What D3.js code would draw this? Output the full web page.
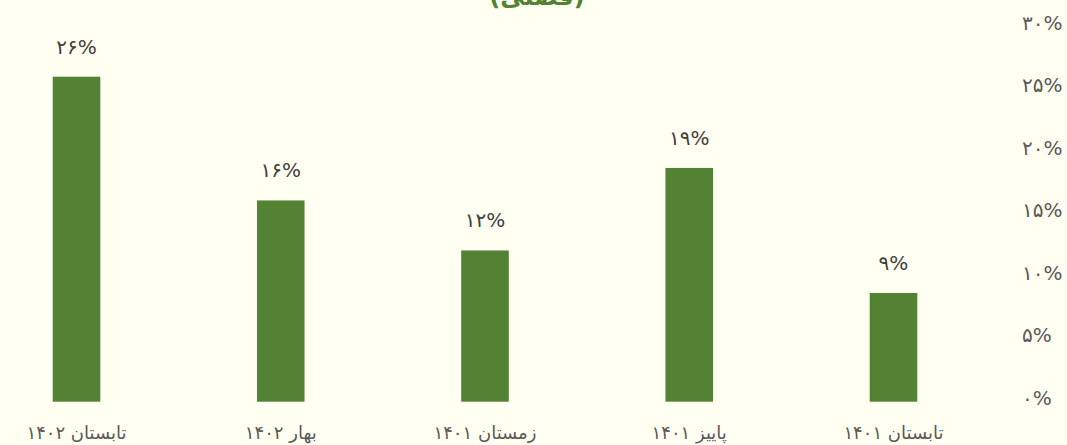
<!DOCTYPE html>
<html>
<head>
<meta charset="utf-8">
<script src="https://cdn.jsdelivr.net/npm/d3@7"></script>
<style>
  html, body { margin: 0; padding: 0; background: #fffff2; }
  svg { display: block; font-family: 'DejaVu Sans', sans-serif; }
</style>
</head>
<body>
<div id="chart"></div>
<script>
// داده‌ها (از چپ به راست در تصویر: جدیدترین تا قدیمی‌ترین)
const categories = ['تابستان ۱۴۰۱', 'پاییز ۱۴۰۱', 'زمستان ۱۴۰۱', 'بهار ۱۴۰۲', 'تابستان ۱۴۰۲'];
const values     = [8.7, 18.7, 12.1, 16.1, 26];
const valueLabels = ['۹%', '۱۹%', '۱۲%', '۱۶%', '۲۶%'];
const yTicks     = [0, 5, 10, 15, 20, 25, 30];
const yTickLabels = ['۰%', '۵%', '۱۰%', '۱۵%', '۲۰%', '۲۵%', '۳۰%'];
const title = '(فصلی)';

const width = 1067, height = 445;
const data = categories.map((c, i) => ({ cat: c, value: values[i], label: valueLabels[i] }));

const svg = d3.select('#chart').append('svg')
  .attr('width', width)
  .attr('height', height)
  .attr('viewBox', [0, 0, width, height]);

svg.append('rect').attr('width', width).attr('height', height).attr('fill', '#fffff2');

// ━━━ scales ━━━
// محور افقی راست به چپ
const x = d3.scaleBand()
  .domain(categories)
  .range([995.5, -25.5])
  .paddingInner(0.767)
  .paddingOuter(0.383);

const y = d3.scaleLinear()
  .domain([0, 30])
  .range([401.7, 26.7]);

// ━━━ y axis (right) ━━━
const yAxis = svg.append('g').attr('id', 'y-axis');
yAxis.selectAll('text')
  .data(yTicks)
  .join('text')
  .attr('x', 1022)
  .attr('y', d => y(d))
  .attr('dy', '0.15em')
  .attr('text-anchor', 'start')
  .attr('direction', 'ltr')
  .attr('font-size', 20)
  .attr('fill', '#595959')
  .text((d, i) => yTickLabels[i]);

// ━━━ bars ━━━
svg.append('g').attr('id', 'bars')
  .selectAll('rect')
  .data(data)
  .join('rect')
  .attr('x', d => x(d.cat))
  .attr('y', d => y(d.value))
  .attr('width', x.bandwidth())
  .attr('height', d => y(0) - y(d.value))
  .attr('fill', '#548235');

// ━━━ value labels ━━━
svg.append('g').attr('id', 'value-labels')
  .selectAll('text')
  .data(data)
  .join('text')
  .attr('x', d => x(d.cat) + x.bandwidth() / 2)
  .attr('y', d => y(d.value) - 23)
  .attr('text-anchor', 'middle')
  .attr('direction', 'ltr')
  .attr('font-size', 20)
  .attr('fill', '#404040')
  .text(d => d.label);

// ━━━ category labels ━━━
svg.append('g').attr('id', 'x-axis')
  .selectAll('text')
  .data(data)
  .join('text')
  .attr('x', d => x(d.cat) + x.bandwidth() / 2)
  .attr('y', 439)
  .attr('text-anchor', 'middle')
  .attr('direction', 'rtl')
  .attr('font-size', 18)
  .attr('fill', '#595959')
  .text(d => d.cat);

// ━━━ title (partly outside the frame, as in the original) ━━━
svg.append('text')
  .attr('x', 537)
  .attr('y', 5)
  .attr('text-anchor', 'middle')
  .attr('direction', 'rtl')
  .attr('font-size', 24)
  .attr('font-weight', 'bold')
  .attr('fill', '#548235')
  .text(title);
</script>
</body>
</html>
